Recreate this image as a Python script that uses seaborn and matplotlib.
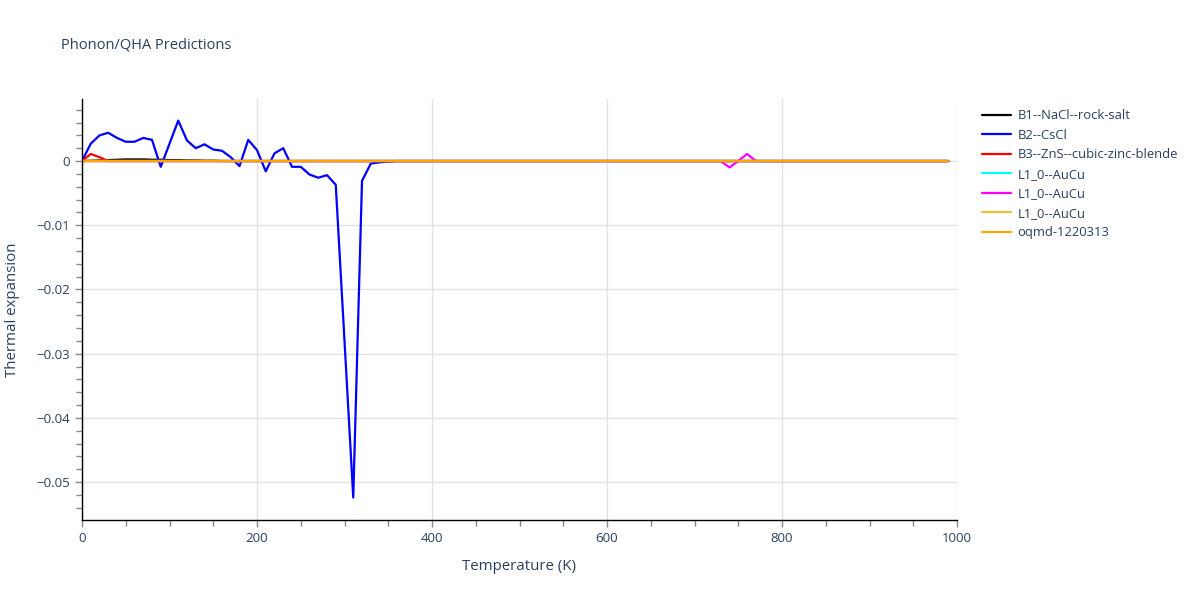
import numpy as np
import pandas as pd
import matplotlib
matplotlib.use('Agg')
import matplotlib.pyplot as plt
import seaborn as sns
from matplotlib.ticker import MultipleLocator, FuncFormatter

# temperatures, 0..990 K in steps of 10
temps = list(range(0, 1000, 10))

# values (units of 1e-3)
b1_rocksalt = [0, 0.05, 0.1, 0.15, 0.2, 0.25, 0.25, 0.25, 0.2, 0.2,
               0.15, 0.15, 0.1, 0.1, 0.05, 0.05] + [0.0] * 84
b2_cscl = [0, 2.7, 4.0, 4.4, 3.6, 3.0, 3.0, 3.6, 3.3, -0.9,
           2.7, 6.3, 3.2, 2.0, 2.6, 1.8, 1.6, 0.6, -0.8, 3.3,
           1.7, -1.6, 1.2, 2.0, -0.9, -0.9, -2.1, -2.6, -2.2, -3.7,
           -28.0, -52.4, -3.1, -0.4, -0.2, -0.1] + [0.0] * 64
b3_zns = [0, 1.1, 0.6, 0.0] + [0.0] * 96
l10_a = [0.0] * 100
l10_b = [0.0] * 73 + [0.0, -1.0, 0.0, 1.1, 0.0] + [0.0] * 22
l10_c = [0.0] * 100
oqmd = [0.0] * 100

series = [
    ('B1--NaCl--rock-salt', b1_rocksalt, 'black'),
    ('B2--CsCl', b2_cscl, 'blue'),
    ('B3--ZnS--cubic-zinc-blende', b3_zns, 'red'),
    ('L1_0--AuCu', l10_a, 'cyan'),
    ('L1_0--AuCu', l10_b, 'magenta'),
    ('L1_0--AuCu', l10_c, '#F0C030'),
    ('oqmd-1220313', oqmd, 'orange'),
]

sns.set_style('white')
plt.rcParams['font.family'] = ['Open Sans', 'DejaVu Sans']
text_col = '#2a3f5f'

fig = plt.figure(figsize=(12, 6), dpi=100)
ax = fig.add_axes([82 / 1200, 80 / 600, 875 / 1200, 421 / 600])

for name, vals, col in series:
    df = pd.DataFrame({'T': temps, 'alpha': np.array(vals) * 1e-3})
    sns.lineplot(data=df, x='T', y='alpha', ax=ax, color=col, lw=1.6, label=name)


def fmt_y(v, pos):
    v = round(v, 4) + 0.0
    if abs(v) < 1e-9:
        return '0'
    return ('%g' % v).replace('-', '\u2212')


ax.set_xlim(0, 1000)
ax.set_ylim(-0.0559, 0.00966)
ax.xaxis.set_major_locator(MultipleLocator(200))
ax.xaxis.set_minor_locator(MultipleLocator(50))
ax.yaxis.set_major_locator(MultipleLocator(0.01))
ax.yaxis.set_minor_locator(MultipleLocator(0.002))
ax.yaxis.set_major_formatter(FuncFormatter(fmt_y))

ax.grid(True, which='major', color='#e2e2e2', lw=1)
ax.set_axisbelow(True)
for s in ['top', 'right']:
    ax.spines[s].set_visible(False)
for s in ['left', 'bottom']:
    ax.spines[s].set_color('black')
    ax.spines[s].set_linewidth(1)

ax.tick_params(which='major', direction='out', length=5, width=1, color='#888888',
               labelsize=9.5, labelcolor=text_col, left=True, bottom=True)
ax.tick_params(which='minor', direction='out', length=4, width=1, color='#888888',
               left=True, bottom=True)

ax.set_xlabel('Temperature (K)', fontsize=10.8, color=text_col, labelpad=10)
ax.set_ylabel('Thermal expansion', fontsize=10.8, color=text_col, labelpad=12)
fig.text(61 / 1200, 1 - 45 / 600, 'Phonon/QHA Predictions', fontsize=10.5,
         color=text_col, va='center', ha='left')

handles, labels = ax.get_legend_handles_labels()
ax.get_legend().remove()
fig.legend(handles, labels, loc='upper left', bbox_to_anchor=(977 / 1200, 1 - 104 / 600),
           frameon=False, fontsize=9.4, handlelength=2.2, labelspacing=0.5,
           labelcolor=text_col, handletextpad=0.5, borderaxespad=0)

fig.savefig('out.png', dpi=100)
